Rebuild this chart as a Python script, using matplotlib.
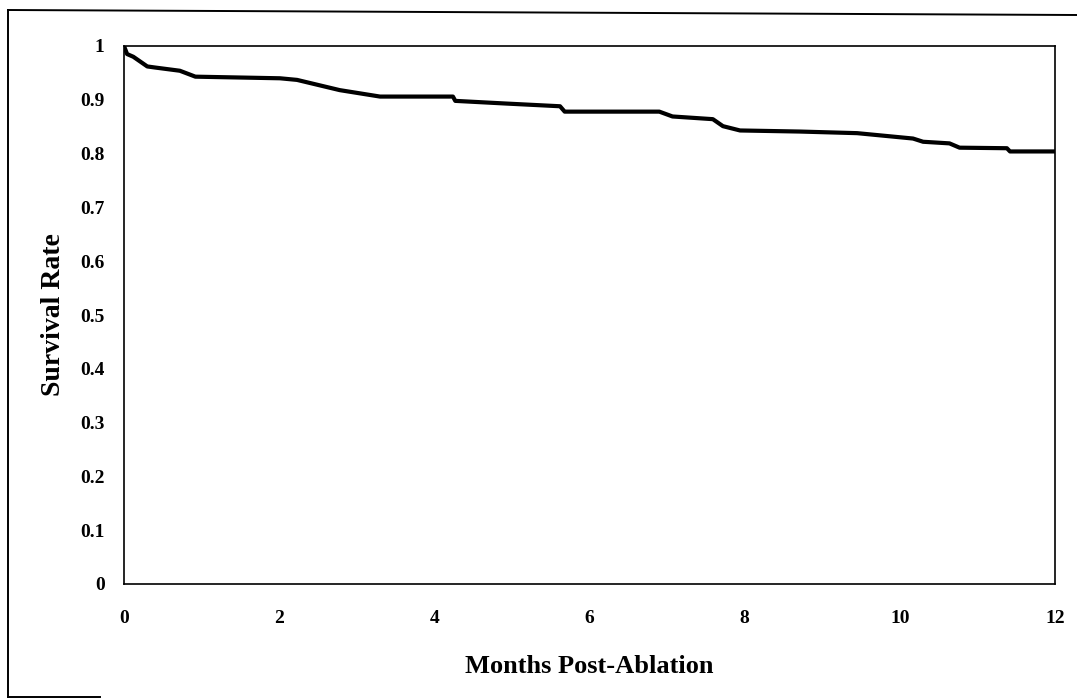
import matplotlib
matplotlib.use("Agg")
import matplotlib.pyplot as plt
from matplotlib.lines import Line2D

# Survival curve (months post-ablation, survival rate)
months = [0.0, 0.04, 0.12, 0.3, 0.4, 0.72, 0.92, 2.01, 2.23, 2.78, 3.3, 4.24, 4.27, 4.93, 5.62,
          5.68, 6.9, 7.07, 7.59, 7.72, 7.94, 8.71, 9.45, 10.17, 10.3, 10.64, 10.77, 11.38, 11.42, 12.0]
survival = [1.0, 0.985, 0.98, 0.962, 0.96, 0.954, 0.943, 0.94, 0.937, 0.918, 0.906, 0.906, 0.898, 0.893, 0.888,
            0.878, 0.878, 0.869, 0.864, 0.851, 0.843, 0.841, 0.838, 0.828, 0.822, 0.819, 0.811, 0.81, 0.804, 0.804]

x_ticks = [0, 2, 4, 6, 8, 10, 12]
y_ticks = [0, 0.1, 0.2, 0.3, 0.4, 0.5, 0.6, 0.7, 0.8, 0.9, 1]
y_tick_labels = ["0", "0.1", "0.2", "0.3", "0.4", "0.5", "0.6", "0.7", "0.8", "0.9", "1"]

plt.rcParams['font.family'] = ['Liberation Serif', 'DejaVu Serif']
plt.rcParams['font.weight'] = 'bold'

W, H = 1077, 700
fig = plt.figure(figsize=(W / 100, H / 100), dpi=100)
fig.patch.set_facecolor('white')

# plot area in pixels: left 124, right 1055, top 46, bottom 584
ax = fig.add_axes([124 / W, 1 - 584 / H, (1055 - 124) / W, (584 - 46) / H])
ax.plot(months, survival, color='black', linewidth=3.0, solid_joinstyle='round')
ax.set_xlim(0, 12)
ax.set_ylim(0, 1)
ax.set_xticks(x_ticks)
ax.set_yticks(y_ticks)
ax.set_yticklabels(y_tick_labels)
ax.tick_params(axis='both', length=0, labelsize=14)
ax.tick_params(axis='x', pad=19)
ax.tick_params(axis='y', pad=14)
for lab in ax.get_xticklabels() + ax.get_yticklabels():
    lab.set_fontweight('bold')
for s in ax.spines.values():
    s.set_linewidth(1.2)
    s.set_color('black')

ax.set_xlabel('Months Post-Ablation', fontsize=19, fontweight='bold', labelpad=20)
ax.set_ylabel('Survival Rate', fontsize=20, fontweight='bold', labelpad=10)

# outer frame of the scanned page
def px(x, y):
    return x / W, 1 - y / H

for (x0, y0), (x1, y1) in [((8, 10), (8, 697)), ((8, 10), (1077, 15)), ((8, 697), (100, 697))]:
    a, b = px(x0, y0)
    c, d = px(x1, y1)
    fig.add_artist(Line2D([a, c], [b, d], transform=fig.transFigure, color='black', linewidth=1.4))

fig.savefig('out.png', dpi=100)
